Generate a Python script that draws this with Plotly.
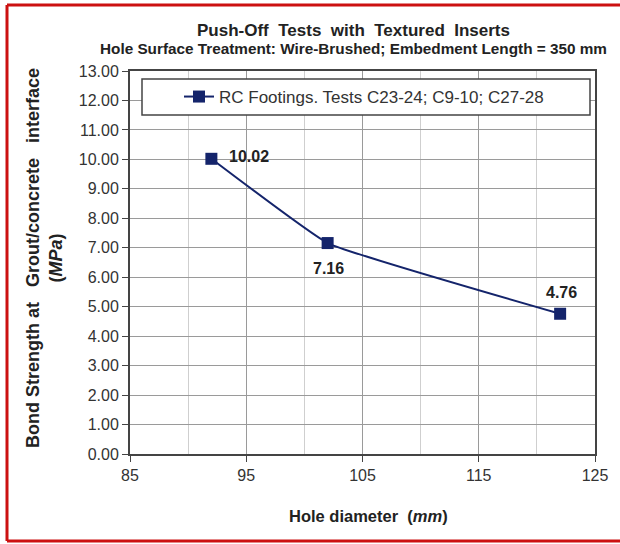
import plotly.graph_objects as go

# Data
hole_diameter = [92, 102, 122]
bond_strength = [10.02, 7.16, 4.76]
point_labels = ["10.02", "7.16", "4.76"]
series_name = "RC Footings. Tests C23-24; C9-10; C27-28"
y_ticks = [i for i in range(0, 14)]
y_ticktext = ["%.2f" % v for v in y_ticks]
x_ticks = [85, 95, 105, 115, 125]

# label offsets in px (style)
label_shifts = [(38, 2), (1, -25), (1, 21)]

FONT = "Liberation Sans, Arial, sans-serif"
NAVY = "#14246b"
RED = "#cc1111"

W, H = 620, 544
L, R, T, B = 130, 25, 71, 90
PW, PH = W - L - R, H - T - B

def px(xp):
    return (xp - L) / PW

def py(yp):
    return (H - B - yp) / PH

fig = go.Figure()
fig.add_trace(go.Scatter(
    x=hole_diameter, y=bond_strength,
    mode="lines+markers",
    name=series_name,
    line=dict(color=NAVY, width=2, shape="spline", smoothing=0.3),
    marker=dict(symbol="square", size=12, color=NAVY),
    cliponaxis=False,
))

for xv, yv, lab, (dx, dy) in zip(hole_diameter, bond_strength, point_labels, label_shifts):
    fig.add_annotation(x=xv, y=yv, text="<b>%s</b>" % lab, showarrow=False,
                       xshift=dx, yshift=dy,
                       font=dict(family=FONT, size=16, color="#222222"))

fig.update_layout(
    width=W, height=H,
    margin=dict(l=L, r=R, t=T, b=B),
    paper_bgcolor="white", plot_bgcolor="white",
    font=dict(family=FONT, color="#333333"),
    showlegend=True,
    legend=dict(
        x=px(179), y=py(97), xanchor="left", yanchor="middle",
        bgcolor="rgba(0,0,0,0)", borderwidth=0,
        font=dict(family=FONT, size=17, color="#333333"),
        itemwidth=30,
    ),
    xaxis=dict(
        range=[85, 125], tickvals=x_ticks, ticks="outside", ticklen=6,
        tickcolor="#444444",
        showgrid=True, gridcolor="#9a9a9a", gridwidth=1,
        minor=dict(dtick=5, tick0=85, showgrid=True, gridcolor="#cfcfcf", ticks=""),
        showline=True, linecolor="#444444", linewidth=2, mirror=True,
        tickfont=dict(family=FONT, size=16, color="#333333"),
        zeroline=False,
    ),
    yaxis=dict(
        range=[0, 13], tickvals=y_ticks, ticktext=y_ticktext,
        ticks="outside", ticklen=6, tickcolor="#444444",
        showgrid=True, gridcolor="#9a9a9a", gridwidth=1,
        showline=True, linecolor="#444444", linewidth=2, mirror=True,
        tickfont=dict(family=FONT, size=16, color="#333333"),
        zeroline=False,
    ),
)

# legend box
fig.add_shape(type="rect", xref="paper", yref="paper",
              x0=px(142), x1=px(590), y0=py(115), y1=py(79),
              line=dict(color="#444444", width=1.5), fillcolor="white", layer="above")

# red frame: left, top and bottom edges
for x0, y0, x1, y1 in [(7, 5, 7, 541), (7, 5, 620, 5), (7, 541, 620, 541)]:
    fig.add_shape(type="line", xref="paper", yref="paper",
                  x0=px(x0), y0=py(y0), x1=px(x1), y1=py(y1),
                  line=dict(color=RED, width=3), layer="above")

# titles
fig.add_annotation(text="<b>Push-Off  Tests  with  Textured  Inserts</b>",
                   xref="paper", yref="paper", x=px(353), y=py(31),
                   showarrow=False, font=dict(family=FONT, size=17, color="#222222"),
                   xanchor="center", yanchor="middle")
fig.add_annotation(text="<b>Hole Surface Treatment: Wire-Brushed; Embedment Length = 350 mm</b>",
                   xref="paper", yref="paper", x=px(353), y=py(49),
                   showarrow=False, font=dict(family=FONT, size=15.3, color="#222222"),
                   xanchor="center", yanchor="middle")
fig.add_annotation(text="<b>Hole diameter  (<i>mm</i>)</b>",
                   xref="paper", yref="paper", x=px(368), y=py(516),
                   showarrow=False, font=dict(family=FONT, size=16.5, color="#222222"),
                   xanchor="center", yanchor="middle")
fig.add_annotation(text="<b>Bond Strength at   Grout/concrete   interface<br>(<i>MPa</i>)</b>",
                   xref="paper", yref="paper", x=px(44), y=py(258),
                   showarrow=False, textangle=-90,
                   font=dict(family=FONT, size=18, color="#222222"),
                   xanchor="center", yanchor="middle")

fig.write_html("out.html", post_script="document.body.style.margin='0';",
               config={"displayModeBar": False})
